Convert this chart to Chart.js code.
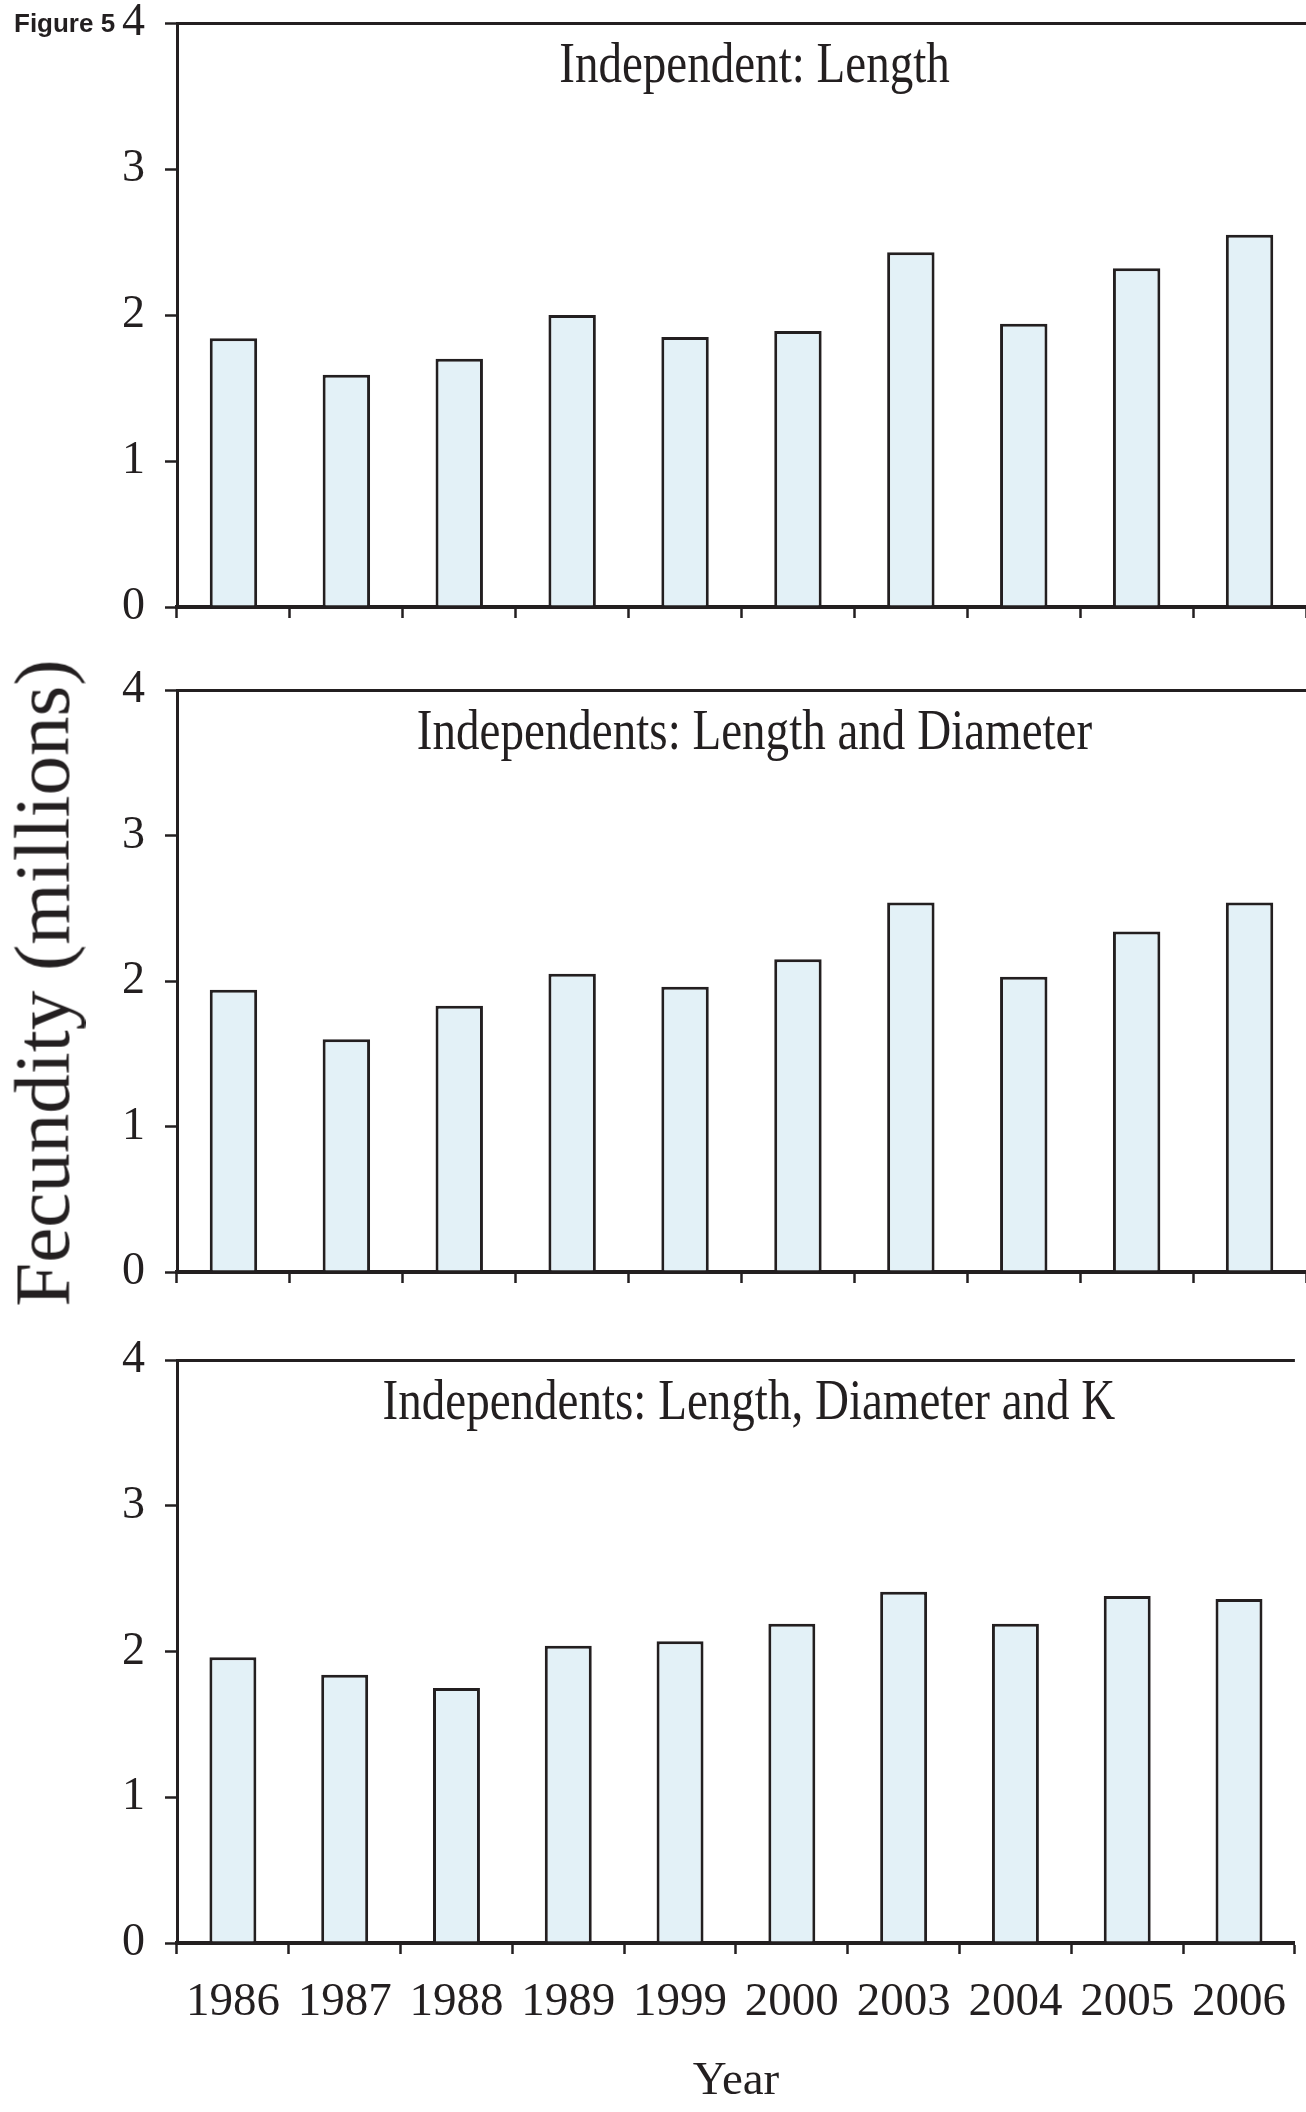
<!DOCTYPE html>
<html>
<head>
<meta charset="utf-8">
<script src="https://cdn.jsdelivr.net/npm/chart.js@4.4.1/dist/chart.umd.min.js"></script>
<style>
    html, body { margin: 0; padding: 0; background: #fff; }
    body { width: 1306px; height: 2112px; position: relative; overflow: hidden; }
    .panel { position: absolute; left: 0; width: 1306px; }
    #figLabel {
        position: absolute; left: 14px; top: 10px;
        font: bold 26px/26px "Liberation Sans", Arial, sans-serif;
        color: #231f20;
    }
    #yTitle {
        position: absolute; left: 42px; top: 983px;
        transform: translate(-50%, -50%) rotate(-90deg);
        font: 79px/1 "Liberation Serif", "Times New Roman", serif;
        color: #231f20; white-space: nowrap;
    }
</style>
</head>
<body>
<div class="panel" style="top:-22px;height:674px"><canvas id="panel1"></canvas></div>
<div class="panel" style="top:645px;height:672px"><canvas id="panel2"></canvas></div>
<div class="panel" style="top:1315px;height:797px"><canvas id="panel3"></canvas></div>
<div id="figLabel">Figure 5</div>
<div id="yTitle">Fecundity (millions)</div>

<script>
/* ======================================================
   DATA
====================================================== */
const years = ['1986', '1987', '1988', '1989', '1999', '2000', '2003', '2004', '2005', '2006'];

const lengthOnly      = [1.84, 1.59, 1.70, 2.00, 1.85, 1.89, 2.43, 1.94, 2.32, 2.55];
const lengthDiameter  = [1.94, 1.60, 1.83, 2.05, 1.96, 2.15, 2.54, 2.03, 2.34, 2.54];
const lengthDiameterK = [1.96, 1.84, 1.75, 2.04, 2.07, 2.19, 2.41, 2.19, 2.38, 2.36];

const panelTitles = [
    'Independent: Length',
    'Independents: Length and Diameter',
    'Independents: Length, Diameter and K'
];

const yTicks = [0, 1, 2, 3, 4];

/* ======================================================
   STYLE
====================================================== */
const ink = '#231f20';
const barFill = '#e3f1f7';
const serif = '"Liberation Serif", "Times New Roman", serif';

// titles sit inside the plot area, slightly condensed like the original
const panelTitle = {
    id: 'panelTitle',
    afterDraw(chart, args, opts) {
        const { ctx, chartArea } = chart;
        ctx.save();
        ctx.font = '56px ' + serif;
        ctx.fillStyle = ink;
        ctx.textAlign = 'center';
        ctx.textBaseline = 'alphabetic';
        ctx.translate((chartArea.left + chartArea.right) / 2 + 13, chartArea.top + 59);
        ctx.scale(0.84, 1);
        ctx.fillText(opts.text, 0, 0);
        ctx.restore();
    }
};

/* ======================================================
   BUILD PANEL
====================================================== */
function makePanel(id, values, title, cfg) {
    const ctx = document.getElementById(id).getContext('2d');

    return new Chart(ctx, {
        type: 'bar',
        data: {
            labels: years,
            datasets: [{
                data: values,
                backgroundColor: barFill,
                borderColor: ink,
                borderWidth: 3,
                barPercentage: 0.42,
                categoryPercentage: 1.0
            }]
        },
        plugins: [panelTitle],
        options: {
            responsive: true,
            maintainAspectRatio: false,
            animation: false,
            layout: { padding: { top: 45, left: 0, right: 0, bottom: 0 } },
            plugins: {
                legend: { display: false },
                tooltip: { enabled: false },
                panelTitle: { text: title }
            },
            scales: {
                x: {
                    grid: {
                        offset: true,
                        drawOnChartArea: false,
                        tickLength: 11,
                        tickWidth: 2.5,
                        tickColor: ink
                    },
                    border: { color: ink, width: 4 },
                    ticks: {
                        display: cfg.showYears,
                        padding: 20,
                        color: ink,
                        maxRotation: 0,
                        autoSkip: false,
                        font: { family: serif, size: 47, lineHeight: 1.2 }
                    },
                    title: {
                        display: cfg.showYears,
                        text: 'Year',
                        color: ink,
                        padding: { top: 0, bottom: 2 },
                        font: { family: serif, size: 47, lineHeight: 1.2 }
                    },
                    afterFit: s => { s.height = cfg.xHeight; }
                },
                y: {
                    min: 0,
                    max: 4,
                    afterBuildTicks: s => { s.ticks = yTicks.map(v => ({ value: v })); },
                    grid: {
                        color: c => (c.tick && c.tick.value === 4) ? ink : 'rgba(0,0,0,0)',
                        lineWidth: 3,
                        tickLength: 12,
                        tickWidth: 2.5,
                        tickColor: ink
                    },
                    border: { color: ink, width: 3 },
                    ticks: {
                        padding: 20,
                        color: ink,
                        font: { family: serif, size: 46, lineHeight: 1 }
                    },
                    afterFit: s => { s.width = 177; }
                }
            }
        }
    });
}

makePanel('panel1', lengthOnly, panelTitles[0], { xHeight: 45, showYears: false });
makePanel('panel2', lengthDiameter, panelTitles[1], { xHeight: 45, showYears: false });
makePanel('panel3', lengthDiameterK, panelTitles[2], { xHeight: 169, showYears: true });
</script>
</body>
</html>
